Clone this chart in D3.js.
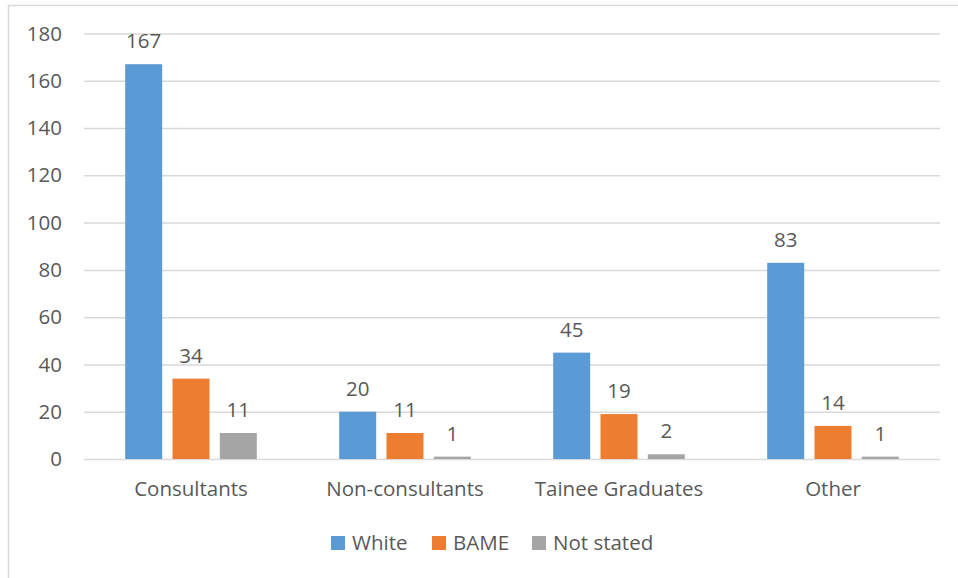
<!DOCTYPE html>
<html>
<head>
<meta charset="utf-8">
<script src="https://cdn.jsdelivr.net/npm/d3@7"></script>
<style>
  html, body { margin: 0; padding: 0; background: #fff; }
  svg { display: block; }
  text { font-family: "Open Sans", "Noto Sans", sans-serif; fill: #595959; }
</style>
</head>
<body>
<svg id="chart" width="958" height="578"></svg>
<script>
// Staff counts by group and ethnicity
const categories = ["Consultants", "Non-consultants", "Tainee Graduates", "Other"];
const seriesNames = ["White", "BAME", "Not stated"];
const white = [167, 20, 45, 83];
const bame = [34, 11, 19, 14];
const notStated = [11, 1, 2, 1];
const yTicks = [0, 20, 40, 60, 80, 100, 120, 140, 160, 180];
const colors = ["#5B9BD5", "#ED7D31", "#A5A5A5"];

const seriesValues = [white, bame, notStated];
const FS = 20.5;

const svg = d3.select("#chart");
const W = 958, H = 578;
const plot = { left: 84, right: 940, top: 33.5, bottom: 459 };

// Outer chart frame
svg.append("rect")
  .attr("x", 8.5).attr("y", 5.5)
  .attr("width", W + 20).attr("height", H + 20)
  .attr("fill", "none")
  .attr("stroke", "#D9D9D9")
  .attr("stroke-width", 1.5);

const x0 = d3.scaleBand().domain(categories).range([plot.left, plot.right]).padding(0);
const x1 = d3.scaleBand().domain(seriesNames).range([0, x0.bandwidth()])
  .paddingInner(0.218).paddingOuter(0.871);
const y = d3.scaleLinear().domain([0, 180]).range([plot.bottom, plot.top]);

// Gridlines and y tick labels
const yAxis = d3.axisLeft(y).tickValues(yTicks).tickSize(-(plot.right - plot.left)).tickPadding(22);
const gy = svg.append("g").attr("transform", `translate(${plot.left},0)`).call(yAxis);
gy.select(".domain").remove();
gy.selectAll(".tick line").attr("stroke", "#D9D9D9").attr("stroke-width", 1.5);
gy.selectAll(".tick text").attr("font-size", FS).attr("fill", "#595959")
  .style("font-family", "'Open Sans', sans-serif");

// Bars
const groups = svg.append("g").selectAll("g")
  .data(categories)
  .join("g")
  .attr("transform", d => `translate(${x0(d)},0)`);

const cells = groups.selectAll("g")
  .data((c, ci) => seriesNames.map((s, si) => ({ s, si, v: seriesValues[si][ci] })))
  .join("g");

cells.append("rect")
  .attr("x", d => x1(d.s))
  .attr("width", x1.bandwidth())
  .attr("y", d => y(d.v))
  .attr("height", d => y(0) - y(d.v))
  .attr("fill", d => colors[d.si]);

// Value labels
cells.append("text")
  .attr("x", d => x1(d.s) + x1.bandwidth() / 2)
  .attr("y", d => y(d.v) - 16)
  .attr("text-anchor", "middle")
  .attr("font-size", FS)
  .text(d => d.v);

// Category axis labels
const xAxis = d3.axisBottom(x0).tickSize(0).tickPadding(22);
const gx = svg.append("g").attr("transform", `translate(0,${plot.bottom})`).call(xAxis);
gx.select(".domain").remove();
gx.selectAll(".tick text").attr("font-size", FS).attr("fill", "#595959")
  .style("font-family", "'Open Sans', sans-serif");

// Legend
const legendX = [331, 432, 532];
const legend = svg.append("g").selectAll("g")
  .data(seriesNames)
  .join("g")
  .attr("transform", (d, i) => `translate(${legendX[i]},543)`);
legend.append("rect")
  .attr("x", 0).attr("y", -7)
  .attr("width", 14).attr("height", 14)
  .attr("fill", (d, i) => colors[i]);
legend.append("text")
  .attr("x", 21).attr("y", 0)
  .attr("dy", "0.35em")
  .attr("font-size", FS)
  .text(d => d);
</script>
</body>
</html>
